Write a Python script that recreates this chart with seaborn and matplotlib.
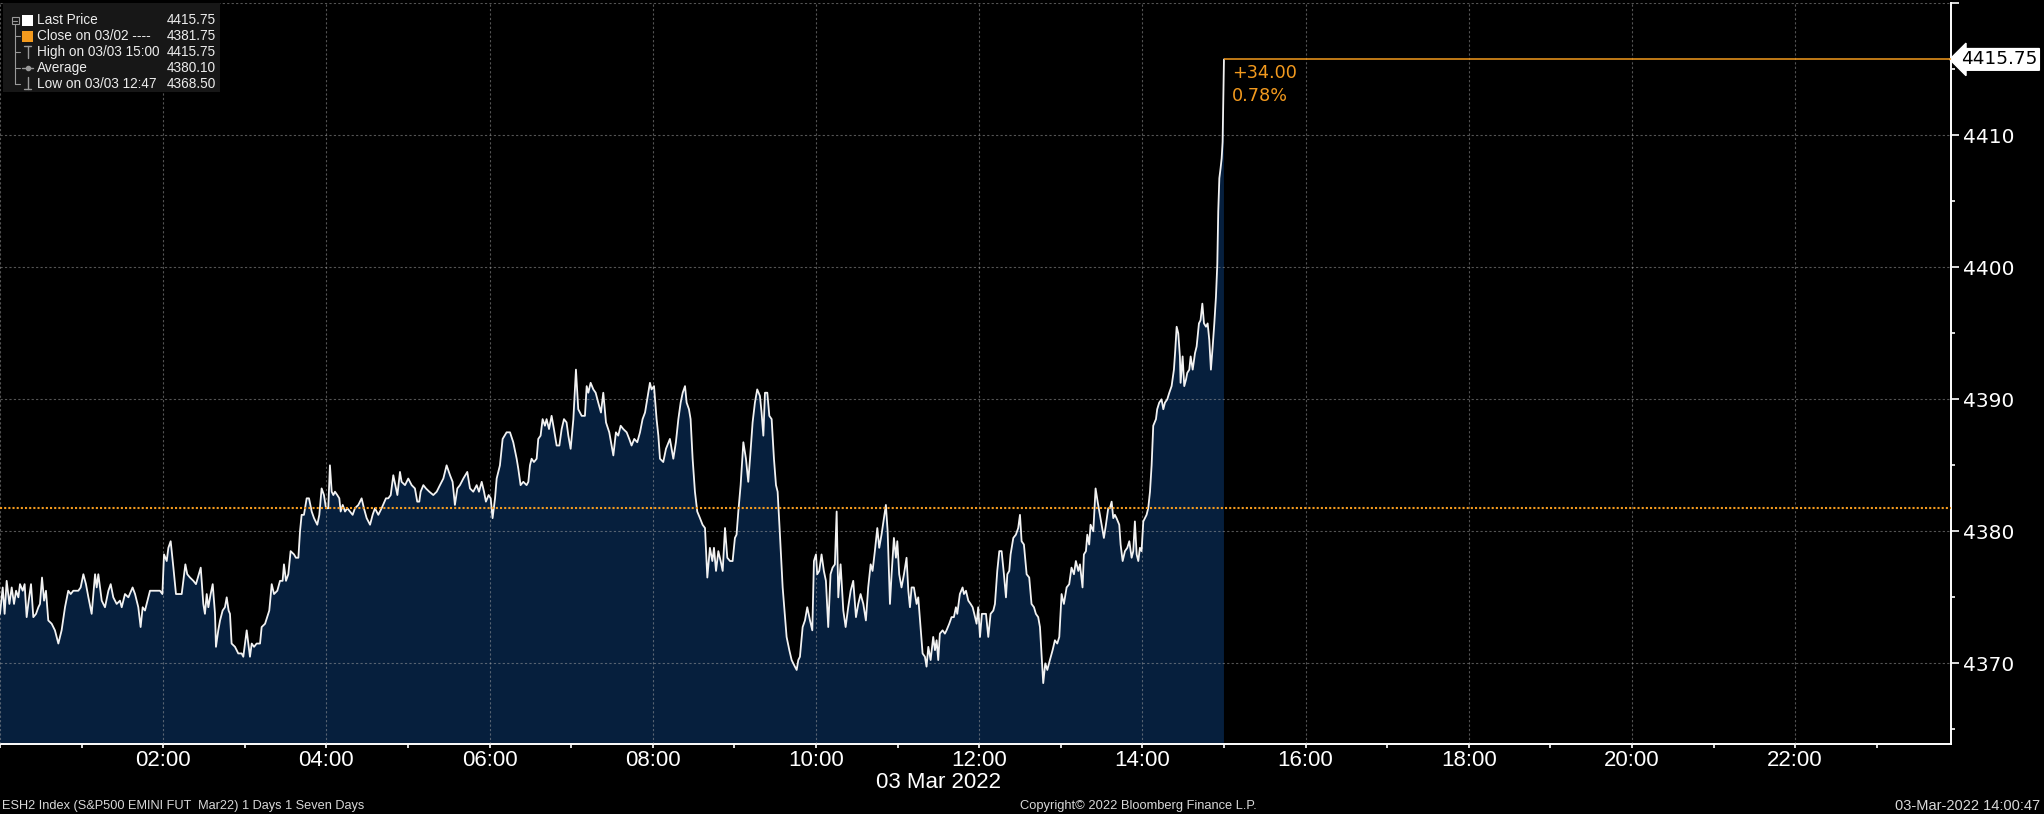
import numpy as np
import pandas as pd
import matplotlib
matplotlib.use("Agg")
import matplotlib.pyplot as plt
import matplotlib.transforms as mtransforms
from matplotlib.patches import Rectangle
from matplotlib.lines import Line2D
import seaborn as sns

# ESH2 intraday, 03 Mar 2022 (minutes after midnight, price)
minutes = [
    0.0, 2.0, 3.4, 4.9, 6.9, 8.6, 10.3, 11.8, 13.5, 14.7, 16.7, 18.1, 19.6, 21.1, 22.8, 24.5,
    26.5, 28.2, 29.4, 30.9, 32.4, 33.8, 35.5, 38.0, 40.4, 42.9, 45.3, 47.8, 50.2, 52.0, 53.9,
    57.6, 59.3, 61.3, 63.2, 65.0, 67.4, 69.9, 71.1, 72.3, 74.8, 77.2, 79.7, 81.4, 83.3, 85.8,
    88.2, 89.5, 91.9, 94.4, 97.5, 99.3, 101.7, 103.4, 104.9, 106.6, 110.3, 112.7, 117.6, 119.4,
    120.6, 122.6, 123.8, 125.5, 127.5, 129.4, 133.6, 136.3, 137.7, 139.7, 142.2, 144.1, 147.6,
    149.5, 150.7, 152.0, 153.2, 154.9, 156.4, 158.1, 158.8, 160.5, 161.8, 163.7, 165.4, 166.7,
    168.1, 169.1, 170.3, 172.8, 175.2, 177.7, 178.9, 181.4, 182.6, 183.8, 185.1, 186.8, 188.7,
    191.2, 192.4, 194.9, 198.0, 199.8, 201.5, 203.9, 205.9, 207.8, 208.8, 210.3, 212.0, 213.7,
    216.2, 217.6, 219.4, 220.6, 221.8, 223.5, 225.5, 227.2, 229.2, 230.9, 233.3, 234.8, 236.5,
    238.2, 239.7, 241.4, 242.6, 243.9, 245.1, 246.3, 248.0, 249.5, 250.5, 252.0, 253.7, 255.4,
    257.4, 259.3, 261.0, 263.5, 265.9, 267.6, 269.6, 272.1, 274.0, 275.7, 278.2, 280.6, 283.8,
    285.5, 287.3, 289.2, 291.2, 292.2, 294.1, 295.3, 297.8, 300.2, 302.7, 305.1, 306.8, 308.3,
    309.3, 311.3, 313.2, 315.7, 318.6, 321.1, 323.5, 326.0, 328.4, 330.9, 332.8, 334.5, 336.3,
    338.2, 340.7, 343.6, 345.6, 348.0, 350.5, 352.2, 354.2, 355.9, 357.3, 359.3, 360.8, 362.2,
    364.0, 365.2, 367.6, 369.6, 372.5, 375.0, 377.4, 379.9, 381.1, 382.8, 384.8, 387.2, 388.5,
    389.7, 390.9, 392.6, 394.6, 395.8, 397.5, 399.0, 400.7, 401.9, 403.7, 405.6, 407.3, 409.3,
    411.3, 413.0, 414.7, 416.6, 417.9, 419.6, 421.6, 423.5, 425.2, 427.7, 430.1, 431.4, 432.6,
    434.3, 436.3, 438.0, 439.9, 441.9, 443.6, 445.6, 448.0, 449.7, 451.0, 452.9, 454.6, 456.4,
    458.3, 460.8, 462.7, 464.4, 466.4, 468.6, 470.6, 472.5, 474.3, 475.9, 477.9, 479.1, 480.9,
    482.8, 484.1, 485.3, 487.7, 489.7, 492.6, 495.1, 497.0, 498.8, 500.5, 502.0, 503.7, 504.9,
    506.6, 507.8, 509.3, 511.0, 512.7, 514.7, 516.6, 518.4, 520.1, 522.0, 523.8, 525.0, 526.5,
    528.2, 529.9, 531.4, 533.1, 534.8, 536.8, 538.7, 540.4, 541.6, 542.9, 544.6, 546.6, 548.5,
    550.2, 551.5, 553.4, 555.1, 556.8, 558.8, 560.0, 561.3, 562.5, 564.2, 565.7, 567.4, 569.1,
    570.6, 571.8, 573.5, 575.5, 577.2, 578.4, 580.4, 582.1, 583.3, 584.5, 585.8, 587.0, 588.2,
    590.2, 591.9, 593.6, 595.6, 597.3, 598.5, 600.0, 600.9, 602.4, 604.1, 605.8, 607.3, 609.0,
    610.7, 612.2, 613.9, 615.2, 616.4, 618.1, 620.1, 621.8, 623.7, 625.5, 627.4, 629.4, 631.1,
    632.8, 634.8, 636.7, 638.4, 640.2, 641.6, 643.3, 645.1, 646.5, 648.2, 650.0, 651.4, 652.7,
    654.4, 655.6, 657.3, 658.8, 659.8, 661.2, 662.9, 664.7, 666.6, 667.9, 669.1, 670.3, 672.0,
    674.0, 675.2, 676.9, 678.4, 680.1, 681.3, 682.6, 684.3, 686.2, 687.5, 688.7, 689.9, 691.1,
    693.1, 694.8, 696.0, 698.0, 699.7, 701.4, 702.9, 703.9, 705.8, 707.8, 708.8, 710.3, 712.0,
    713.7, 715.2, 716.4, 718.1, 719.3, 720.6, 722.0, 723.5, 725.0, 726.7, 728.4, 730.4, 731.6,
    733.3, 734.8, 736.5, 738.2, 739.7, 740.7, 742.1, 743.1, 745.1, 747.0, 748.7, 750.0, 751.2,
    752.9, 754.9, 756.8, 758.5, 760.3, 761.7, 763.4, 764.7, 766.1, 767.1, 768.6, 770.1, 772.0,
    774.0, 775.7, 777.4, 778.9, 780.6, 782.3, 784.3, 786.2, 787.9, 789.7, 791.1, 792.9, 794.1,
    796.0, 797.0, 798.5, 799.5, 800.9, 801.9, 803.9, 805.6, 807.1, 808.8, 810.0, 811.7, 813.2,
    814.9, 816.1, 817.4, 818.6, 819.8, 821.0, 823.0, 824.0, 825.5, 827.2, 828.9, 830.4, 832.1,
    833.3, 834.5, 835.8, 837.0, 838.2, 839.4, 840.7, 841.9, 843.1, 844.3, 845.6, 846.8, 848.0,
    850.0, 850.9, 852.4, 854.1, 855.4, 856.6, 858.3, 859.8, 861.5, 863.2, 864.2, 865.2, 866.4,
    867.6, 868.1, 869.6, 870.8, 872.1, 873.0, 874.5, 875.5, 877.0, 878.7, 879.9, 881.6, 882.8,
    884.1, 885.3, 886.8, 888.0, 889.2, 890.4, 891.7, 892.9, 894.1, 895.1, 895.8, 896.6, 897.5,
    898.3, 899.0, 900.0,
]
price = [
    4373.75, 4375.75, 4373.75, 4376.25, 4374.5, 4375.75, 4374.5, 4375.5, 4375.0, 4376.0, 4375.5,
    4376.0, 4373.5, 4374.75, 4376.0, 4373.5, 4373.75, 4374.25, 4374.5, 4376.5, 4374.75, 4375.5,
    4373.25, 4373.0, 4372.5, 4371.5, 4372.5, 4374.25, 4375.5, 4375.25, 4375.5, 4375.5, 4375.75,
    4376.75, 4376.0, 4375.0, 4373.75, 4376.75, 4375.75, 4376.75, 4374.75, 4374.25, 4375.5,
    4376.0, 4375.0, 4374.5, 4374.75, 4374.25, 4375.25, 4375.0, 4375.75, 4375.25, 4374.25,
    4372.75, 4374.25, 4374.0, 4375.5, 4375.5, 4375.5, 4375.25, 4378.25, 4377.75, 4378.75,
    4379.25, 4377.25, 4375.25, 4375.25, 4377.5, 4376.75, 4376.5, 4376.25, 4376.0, 4377.25,
    4374.5, 4373.75, 4375.25, 4374.25, 4375.25, 4376.0, 4373.75, 4371.25, 4372.5, 4373.25,
    4374.0, 4374.25, 4375.0, 4374.0, 4373.75, 4371.5, 4371.25, 4370.75, 4370.75, 4370.5,
    4372.5, 4371.5, 4370.5, 4371.5, 4371.25, 4371.5, 4371.5, 4372.75, 4373.0, 4374.0, 4376.0,
    4375.25, 4375.5, 4376.25, 4376.25, 4377.5, 4376.25, 4376.75, 4378.5, 4378.25, 4378.0,
    4378.0, 4380.0, 4381.25, 4381.25, 4382.5, 4382.5, 4381.5, 4381.0, 4380.5, 4381.25, 4383.25,
    4382.75, 4381.75, 4381.75, 4385.0, 4383.0, 4382.75, 4383.0, 4382.75, 4382.5, 4381.5,
    4382.0, 4381.5, 4381.75, 4381.5, 4381.25, 4381.75, 4382.0, 4382.5, 4381.75, 4381.0,
    4380.5, 4381.25, 4381.75, 4381.25, 4381.75, 4382.5, 4382.5, 4382.75, 4384.25, 4383.25,
    4382.75, 4384.5, 4383.75, 4383.5, 4384.0, 4383.5, 4383.25, 4382.25, 4382.25, 4383.0,
    4383.5, 4383.25, 4383.0, 4382.75, 4383.0, 4383.5, 4384.0, 4385.0, 4384.25, 4383.75,
    4382.0, 4383.25, 4383.5, 4384.0, 4384.5, 4383.25, 4383.0, 4383.5, 4383.0, 4383.75,
    4383.0, 4382.25, 4382.75, 4382.5, 4381.0, 4382.5, 4384.0, 4385.0, 4387.0, 4387.5, 4387.5,
    4386.75, 4385.5, 4384.75, 4383.5, 4383.75, 4383.5, 4383.75, 4385.0, 4385.5, 4385.25,
    4385.5, 4387.0, 4387.25, 4388.5, 4388.0, 4388.5, 4387.75, 4388.75, 4387.75, 4386.5,
    4386.5, 4387.75, 4388.5, 4388.25, 4387.25, 4386.25, 4388.5, 4392.25, 4389.25, 4388.75,
    4388.75, 4391.0, 4390.5, 4391.25, 4390.75, 4390.5, 4389.75, 4389.0, 4390.5, 4388.25,
    4387.5, 4386.5, 4385.75, 4387.5, 4387.25, 4388.0, 4387.75, 4387.5, 4387.0, 4386.5, 4387.0,
    4386.75, 4387.5, 4388.5, 4389.0, 4390.0, 4391.25, 4390.75, 4391.0, 4388.5, 4387.25,
    4385.5, 4385.25, 4386.25, 4387.0, 4385.5, 4386.75, 4388.5, 4389.75, 4390.5, 4391.0,
    4389.75, 4389.25, 4388.5, 4385.5, 4383.0, 4381.5, 4381.0, 4380.5, 4380.25, 4376.5,
    4378.75, 4377.75, 4378.75, 4377.0, 4378.5, 4377.75, 4377.0, 4380.25, 4378.0, 4377.75,
    4377.75, 4379.5, 4379.75, 4381.5, 4383.5, 4386.75, 4385.5, 4383.75, 4385.5, 4388.25,
    4389.75, 4390.75, 4390.25, 4389.0, 4387.25, 4390.5, 4390.5, 4388.75, 4388.5, 4385.5,
    4383.5, 4383.0, 4379.75, 4375.75, 4373.5, 4372.0, 4371.0, 4370.25, 4370.0, 4369.75,
    4369.5, 4370.25, 4370.5, 4372.75, 4373.25, 4374.25, 4373.25, 4372.5, 4377.75, 4378.25,
    4376.75, 4377.0, 4378.25, 4377.0, 4376.25, 4372.75, 4376.75, 4377.25, 4377.5, 4381.5,
    4375.0, 4377.5, 4374.0, 4372.75, 4374.25, 4375.5, 4376.25, 4373.5, 4374.5, 4375.25,
    4374.5, 4373.25, 4375.75, 4377.5, 4377.0, 4378.5, 4380.25, 4378.75, 4379.75, 4381.0,
    4382.0, 4380.0, 4374.5, 4376.75, 4379.5, 4378.0, 4379.25, 4376.75, 4375.75, 4376.75,
    4378.0, 4375.5, 4374.25, 4375.75, 4375.75, 4374.5, 4375.0, 4372.75, 4370.75, 4370.5,
    4369.75, 4371.25, 4370.25, 4372.0, 4371.0, 4371.75, 4370.25, 4372.25, 4372.5, 4372.25,
    4372.5, 4373.0, 4373.5, 4373.5, 4374.25, 4373.75, 4375.25, 4375.75, 4375.25, 4375.5,
    4374.75, 4374.5, 4374.25, 4373.75, 4373.0, 4374.25, 4372.0, 4373.75, 4373.75, 4373.75,
    4372.0, 4373.75, 4374.0, 4374.5, 4377.0, 4378.5, 4378.5, 4376.75, 4375.0, 4376.75,
    4377.0, 4378.25, 4379.5, 4379.75, 4380.25, 4381.25, 4379.25, 4379.0, 4376.75, 4376.5,
    4374.5, 4374.25, 4373.75, 4373.5, 4372.75, 4370.25, 4368.5, 4370.0, 4369.5, 4370.25,
    4371.0, 4371.75, 4371.5, 4372.0, 4375.25, 4374.5, 4375.75, 4376.0, 4377.25, 4376.75,
    4377.75, 4377.0, 4377.5, 4375.75, 4378.25, 4378.5, 4379.75, 4379.0, 4380.5, 4380.0,
    4383.25, 4382.25, 4381.25, 4380.5, 4379.5, 4380.5, 4381.75, 4381.75, 4382.25, 4381.0,
    4381.25, 4381.0, 4380.5, 4379.0, 4377.75, 4378.5, 4378.75, 4379.25, 4378.0, 4378.5,
    4380.75, 4378.25, 4377.75, 4378.75, 4378.5, 4380.75, 4381.0, 4381.25, 4381.75, 4383.0,
    4385.0, 4388.0, 4388.5, 4389.25, 4389.75, 4390.0, 4389.25, 4389.75, 4390.0, 4390.5,
    4391.0, 4392.25, 4393.75, 4395.5, 4395.0, 4393.25, 4391.25, 4393.25, 4391.0, 4391.5,
    4392.0, 4392.25, 4393.25, 4392.25, 4393.5, 4394.0, 4395.75, 4396.0, 4397.25, 4395.75,
    4395.5, 4395.75, 4394.5, 4392.25, 4394.0, 4395.75, 4397.75, 4400.25, 4404.25, 4406.75,
    4407.5, 4408.25, 4409.5, 4415.75,
]

prev_close = 4381.75
last_price = 4415.75
net_change = "+34.00"
pct_change = "0.78%"

y_major = [4370, 4380, 4390, 4400, 4410, 4420]
y_major_labels = ["4370", "4380", "4390", "4400", "4410", ""]
y_minor = [4365, 4375, 4385, 4395, 4405, 4415]
x_major = list(range(0, 24, 2))
x_major_labels = [""] + ["%02d:00" % h for h in range(2, 24, 2)]
x_minor = list(range(1, 24, 2))

legend_names = ["Last Price", "Close on 03/02 ----", "High on 03/03 15:00", "Average", "Low on 03/03 12:47"]
legend_values = ["4415.75", "4381.75", "4415.75", "4380.10", "4368.50"]

df = pd.DataFrame({"hour": np.array(minutes) / 60.0, "price": price})

ORANGE = "#f39a1e"
FILL = "#061f3d"
W, H = 2044, 814

sns.set_theme(style="dark")
plt.rcParams["font.family"] = ["DejaVu Sans"]

fig = plt.figure(figsize=(W / 100, H / 100), dpi=100)
fig.patch.set_facecolor("black")
ax = fig.add_axes([0, 70 / H, 1951 / W, 740.7 / H])
ax.set_facecolor("black")

# area + price line
ax.fill_between(df["hour"], df["price"], 4300, color=FILL, linewidth=0, zorder=1)
sns.lineplot(data=df, x="hour", y="price", ax=ax, color="#f2f2f2", linewidth=1.3,
             estimator=None, sort=False, zorder=3)

# previous close (dotted) and last price level
ax.axhline(prev_close, color=ORANGE, linestyle=(0, (1, 1)), linewidth=1.5, zorder=4)
ax.hlines(last_price, df["hour"].iloc[-1], 23.91, color=ORANGE, linewidth=1.1, zorder=4)
ax.annotate(net_change, xy=(df["hour"].iloc[-1], last_price), xytext=(6, -3),
            textcoords="offset points", ha="left", va="top", color=ORANGE, fontsize=12.7)
ax.annotate(pct_change, xy=(df["hour"].iloc[-1], last_price), xytext=(6, -20),
            textcoords="offset points", ha="left", va="top", color=ORANGE, fontsize=12.7)

ax.set_xlim(0, 23.91)
ax.set_ylim(4363.89, 4420)
ax.set_xlabel("")
ax.set_ylabel("")

for s in ["left", "top"]:
    ax.spines[s].set_visible(False)
for s in ["right", "bottom"]:
    ax.spines[s].set_color("white")
    ax.spines[s].set_linewidth(1.4)

ax.yaxis.tick_right()
ax.set_yticks(y_major)
ax.set_yticklabels(y_major_labels)
ax.set_yticks(y_minor, minor=True)
ax.set_xticks(x_major)
ax.set_xticklabels(x_major_labels)
ax.set_xticks(x_minor, minor=True)

ax.tick_params(axis="y", which="both", left=False, right=True, labelleft=False, labelright=True,
               colors="white", direction="out", width=1.2)
ax.tick_params(axis="y", which="major", length=6, pad=2.5, labelsize=14.5)
ax.tick_params(axis="y", which="minor", length=3)
ax.tick_params(axis="x", which="both", bottom=True, colors="white", direction="out",
               width=1.2, length=3)
ax.tick_params(axis="x", which="major", labelsize=16, pad=1.5, labelfontfamily="Liberation Sans")

ax.grid(True, which="major", color="#a8a8a8", linestyle=(0, (2, 2)), linewidth=0.8, alpha=0.5)
ax.set_axisbelow(False)

# last price tag on the axis
tag = mtransforms.blended_transform_factory(ax.transAxes, ax.transData)
ax.text(1.0052, last_price, "4415.75", transform=tag, ha="left", va="center", fontsize=13.3,
        color="black", clip_on=False,
        bbox=dict(boxstyle="larrow,pad=0.1", fc="white", ec="white"))

# date under the axis
fig.text(938 / W, 1 - 782 / H, "03 Mar 2022", ha="center", va="center", color="white",
         fontsize=16, family="Liberation Sans")

# footer
fig.text(2 / W, 1 - 806 / H, "ESH2 Index (S&P500 EMINI FUT  Mar22) 1 Days 1 Seven Days",
         ha="left", va="center", color="#d8d8d8", fontsize=9.2, family="Liberation Sans")
fig.text(1138 / W, 1 - 806 / H, "Copyright\u00a9 2022 Bloomberg Finance L.P.",
         ha="center", va="center", color="#d8d8d8", fontsize=9.3, family="Liberation Sans")
fig.text(2040 / W, 1 - 806 / H, "03-Mar-2022 14:00:47",
         ha="right", va="center", color="#d8d8d8", fontsize=10.5, family="Liberation Sans")


# legend box (drawn in pixel positions)
def fx(x):
    return x / W


def fy(y):
    return 1 - y / H


fig.add_artist(Rectangle((fx(3), fy(92)), 217 / W, 89 / H, transform=fig.transFigure,
                         fc="#171717", ec="none", zorder=5))
grey = "#9a9a9a"
tree = [Line2D([fx(15), fx(15)], [fy(24), fy(84)], color=grey, lw=0.8, transform=fig.transFigure)]
for yy in [36, 52, 68, 84]:
    tree.append(Line2D([fx(15), fx(20)], [fy(yy), fy(yy)], color=grey, lw=0.8,
                       transform=fig.transFigure))
tree.append(Rectangle((fx(11.5), fy(24)), 7 / W, 7 / H, transform=fig.transFigure,
                      fc="none", ec=grey, lw=0.8))
tree.append(Line2D([fx(13), fx(17)], [fy(20.5), fy(20.5)], color=grey, lw=0.8,
                   transform=fig.transFigure))
tree.append(Rectangle((fx(22), fy(26)), 11 / W, 11 / H, transform=fig.transFigure,
                      fc="white", ec="none"))
tree.append(Rectangle((fx(22), fy(41.5)), 11 / W, 11 / H, transform=fig.transFigure,
                      fc=ORANGE, ec="none"))
tree.append(Line2D([fx(27.5), fx(27.5)], [fy(46), fy(58)], color=grey, lw=1.0, transform=fig.transFigure))
tree.append(Line2D([fx(24), fx(31)], [fy(46), fy(46)], color=grey, lw=1.0, transform=fig.transFigure))
tree.append(Line2D([fx(22), fx(33)], [fy(68), fy(68)], color=grey, lw=1.0, transform=fig.transFigure))
tree.append(Line2D([fx(27.5)], [fy(68)], color=grey, lw=0, marker="o", markersize=3,
                   transform=fig.transFigure))
tree.append(Line2D([fx(27.5), fx(27.5)], [fy(77), fy(89)], color=grey, lw=1.0, transform=fig.transFigure))
tree.append(Line2D([fx(24), fx(31)], [fy(89), fy(89)], color=grey, lw=1.0, transform=fig.transFigure))
for art in tree:
    art.set_zorder(6)
    fig.add_artist(art)

for i, (name, val) in enumerate(zip(legend_names, legend_values)):
    yy = fy(20.5 + i * 15.9)
    fig.text(fx(37), yy, name, ha="left", va="center", color="#ececec", fontsize=9.8,
             family="Liberation Sans", zorder=7)
    fig.text(fx(167), yy, val, ha="left", va="center", color="#ececec", fontsize=9.8,
             family="Liberation Sans", zorder=7)

fig.savefig("out.png", dpi=100, facecolor="black")
